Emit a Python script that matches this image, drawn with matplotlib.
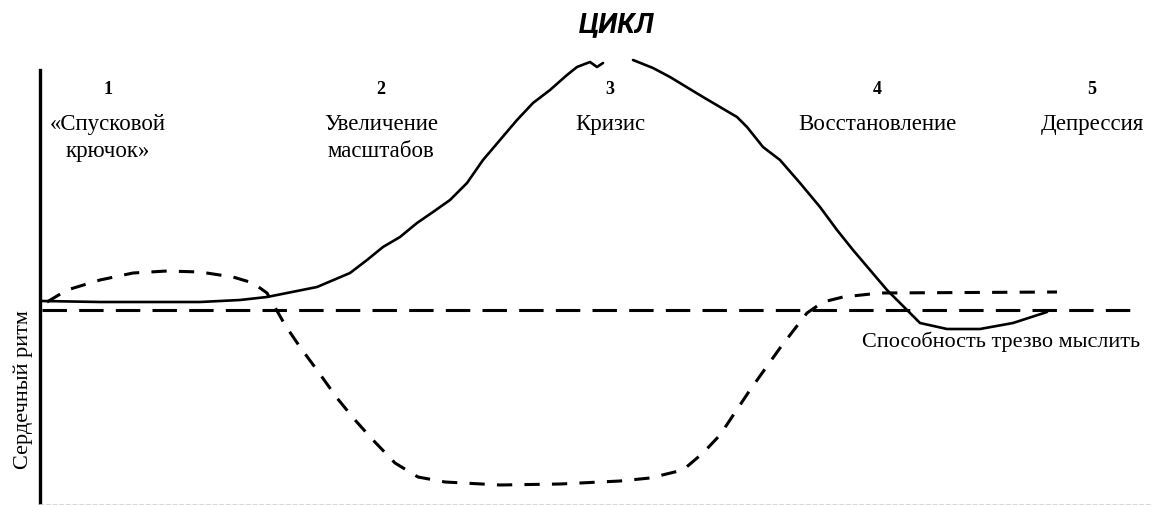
import matplotlib
matplotlib.use("Agg")
import matplotlib.pyplot as plt

# heart rate (solid line), two pieces with a gap at the top
heart_x1 = [2, 60, 160, 200, 227, 277, 310, 327, 343, 360, 377, 393, 410, 427, 443, 460,
            477, 493, 510, 527, 537, 550, 557, 563]
heart_y1 = [9, 8, 8, 10, 13, 23, 37, 50, 63, 73, 87, 98, 110, 127, 150, 170,
            190, 207, 220, 235, 243, 248, 243, 247]
heart_x2 = [593, 613, 630, 663, 697, 707, 723, 740, 760, 780, 797, 813, 830, 847, 867,
            880, 907, 940, 973, 1007]
heart_y2 = [250, 242, 233, 213, 193, 183, 163, 150, 127, 103, 80, 60, 40, 20, 0,
            -13, -19, -19, -13, -2]

# ability to think clearly (short dashes)
think_x = [7, 27, 60, 93, 127, 160, 193, 213, 227, 245, 260, 277, 297, 315, 333, 355,
           378, 405, 460, 520, 580, 610, 643, 663, 680, 710, 740, 767, 783, 803, 840, 1017]
think_y = [8, 20, 30, 37, 39, 38, 33, 27, 17, -15, -37, -60, -88, -110, -130, -153,
           -167, -172, -175, -174, -171, -168, -160, -143, -125, -80, -38, -3, 8, 13, 17, 18]

# baseline
base_x = [2, 1090]
base_y = [0, 0]

stage_nums = ["1", "2", "3", "4", "5"]
stage_names = ["«Спусковой\nкрючок»", "Увеличение\nмасштабов", "Кризис", "Восстановление", "Депрессия"]
stage_pos = [68, 341, 570, 837, 1052]

fig = plt.figure(figsize=(11.57, 5.05), dpi=100)
ax = fig.add_axes([40 / 1157, 0.0, 1110 / 1157, 435 / 505])
ax.set_xlim(0, 1110)
ax.set_ylim(-195, 240)

ax.plot(heart_x1, heart_y1, color="black", lw=1.9, solid_capstyle="round", clip_on=False)
ax.plot(heart_x2, heart_y2, color="black", lw=1.9, solid_capstyle="round", clip_on=False)
ax.plot(think_x, think_y, color="black", lw=2.2, linestyle=(0, (5, 4)))
ax.plot(base_x, base_y, color="black", lw=2.2, linestyle=(0, (8, 4)))

for s in ["top", "right"]:
    ax.spines[s].set_visible(False)
ax.spines["left"].set_linewidth(2.4)
ax.spines["bottom"].set_color("#d0d0d0")
ax.spines["bottom"].set_linestyle((0, (2, 2)))
ax.spines["bottom"].set_linewidth(1.2)
ax.set_xticks([])
ax.set_yticks([])

for num, name, xp in zip(stage_nums, stage_names, stage_pos):
    ax.text(xp, 220, num, ha="center", va="center", family="Liberation Serif",
            fontweight="bold", fontsize=13)
    ax.text(xp, 196, name, ha="center", va="top", family="Liberation Serif",
            fontsize=16.5, linespacing=1.35)

ax.text(1100, -32, "Способность трезво мыслить", ha="right", va="center",
        family="Liberation Serif", fontsize=16)

fig.text(23 / 1157, 1 - 390 / 505, "Сердечный ритм", rotation=90, ha="center", va="center",
         family="Liberation Serif", fontsize=16)
fig.text(617 / 1157, 1 - 25 / 505, "ЦИКЛ", ha="center", va="center",
         family="Roboto", fontweight="bold", style="italic", fontsize=20)

fig.savefig("out.png", dpi=100)
